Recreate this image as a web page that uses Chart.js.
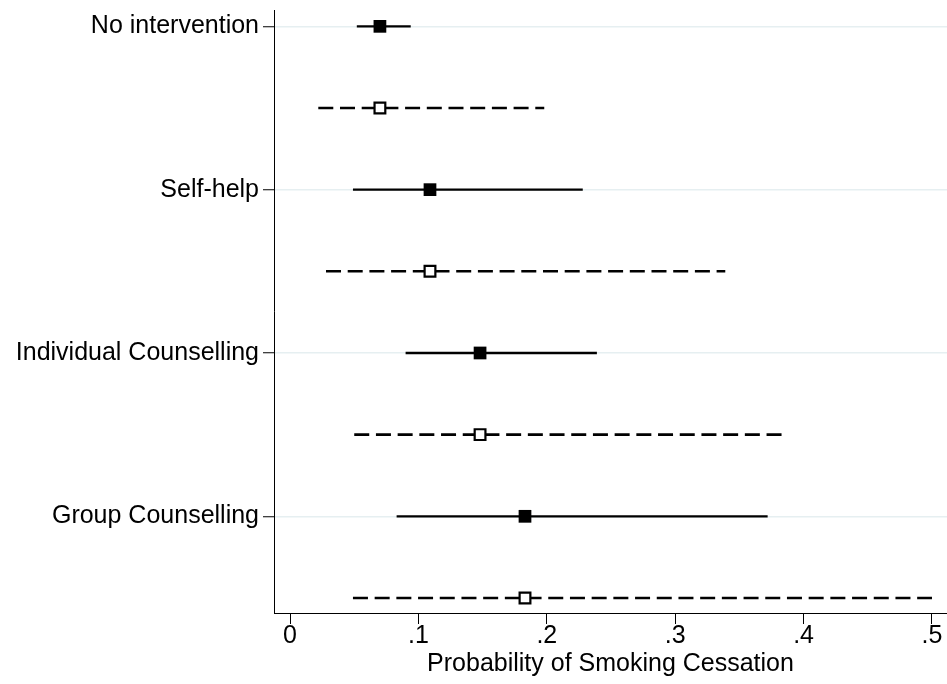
<!DOCTYPE html>
<html>
<head>
<meta charset="utf-8">
<script src="https://cdn.jsdelivr.net/npm/chart.js@4/dist/chart.umd.min.js"></script>
<style>
  body { margin: 0; background: #fff; }
  #wrap { width: 947px; height: 684px; }
</style>
</head>
<body>
<div id="wrap"><canvas id="chart" width="947" height="684"></canvas></div>
<script>
// rows of the plot, top to bottom
var categories = ['No intervention', 'Self-help', 'Individual Counselling', 'Group Counselling'];
// point estimate (same for both intervals)
var estimates = [0.070, 0.109, 0.148, 0.183];
// solid interval
var solidLow = [0.052, 0.049, 0.090, 0.083];
var solidHigh = [0.094, 0.228, 0.239, 0.372];
// dashed interval
var dashedLow = [0.022, 0.028, 0.050, 0.049];
var dashedHigh = [0.198, 0.339, 0.386, 0.500];
var xTicks = [0, 0.1, 0.2, 0.3, 0.4, 0.5];

var FONT = "'Liberation Sans', Arial, sans-serif";

function makeDatasets() {
	var sets = [];
	// markers first so they sit on top of the lines
	var filled = [];
	var hollow = [];
	for (var i = 0; i < categories.length; i++) {
		filled.push({x: estimates[i], y: i + 1});
		hollow.push({x: estimates[i], y: i + 1.5});
	}
	sets.push({
		type: 'scatter',
		data: filled,
		pointStyle: 'rect',
		pointRadius: 9,
		pointBackgroundColor: '#000',
		pointBorderWidth: 0
	});
	sets.push({
		type: 'scatter',
		data: hollow,
		pointStyle: 'rect',
		pointRadius: 7.6,
		pointBackgroundColor: '#fff',
		pointBorderColor: '#000',
		pointBorderWidth: 2.2
	});
	for (var j = 0; j < categories.length; j++) {
		sets.push({
			type: 'line',
			data: [{x: solidLow[j], y: j + 1}, {x: solidHigh[j], y: j + 1}],
			borderColor: '#000',
			borderWidth: 2.3,
			pointRadius: 0,
			fill: false
		});
		sets.push({
			type: 'line',
			data: [{x: dashedLow[j], y: j + 1.5}, {x: dashedHigh[j], y: j + 1.5}],
			borderColor: '#000',
			borderWidth: 2.6,
			borderDash: [15, 6.7],
			pointRadius: 0,
			fill: false
		});
	}
	return sets;
}

function noPad(scale) {
	scale.paddingLeft = 0;
	scale.paddingRight = 0;
	scale.paddingTop = 0;
	scale.paddingBottom = 0;
}

var ctx = document.getElementById('chart').getContext('2d');
new Chart(ctx, {
	data: { datasets: makeDatasets() },
	options: {
		responsive: false,
		animation: false,
		layout: { autoPadding: false, padding: { top: 10, right: 0, bottom: 0, left: 0 } },
		plugins: {
			legend: { display: false },
			tooltip: { enabled: false }
		},
		scales: {
			x: {
				type: 'linear',
				min: -0.0125,
				max: 0.5117,
				afterBuildTicks: function(scale) {
					scale.ticks = xTicks.map(function(v) { return {value: v}; });
				},
				afterFit: function(scale) { scale.height = 71; noPad(scale); },
				ticks: {
					color: '#000',
					padding: -3,
					maxRotation: 0,
					font: { family: FONT, size: 25 },
					callback: function(v) {
						if (v == 0) return '0';
						return String(Math.round(v * 10) / 10).replace('0.', '.');
					}
				},
				grid: {
					drawOnChartArea: false,
					tickLength: 11,
					tickColor: '#000',
					tickWidth: 1
				},
				border: { color: '#000', width: 1 },
				title: {
					display: true,
					text: 'Probability of Smoking Cessation',
					color: '#000',
					font: { family: FONT, size: 25 },
					padding: { top: 0, bottom: 5 }
				}
			},
			y: {
				type: 'linear',
				reverse: true,
				min: 0.9,
				max: 4.592,
				afterBuildTicks: function(scale) {
					scale.ticks = categories.map(function(c, i) { return {value: i + 1}; });
				},
				afterFit: function(scale) { scale.width = 274; noPad(scale); },
				ticks: {
					color: '#000',
					padding: 4,
					font: { family: FONT, size: 25 },
					callback: function(v) { return categories[v - 1]; }
				},
				grid: {
					color: '#e6eff1',
					lineWidth: 1.5,
					tickLength: 11,
					tickColor: '#000',
					tickWidth: 1
				},
				border: { color: '#000', width: 1 }
			}
		}
	}
});
</script>
</body>
</html>
